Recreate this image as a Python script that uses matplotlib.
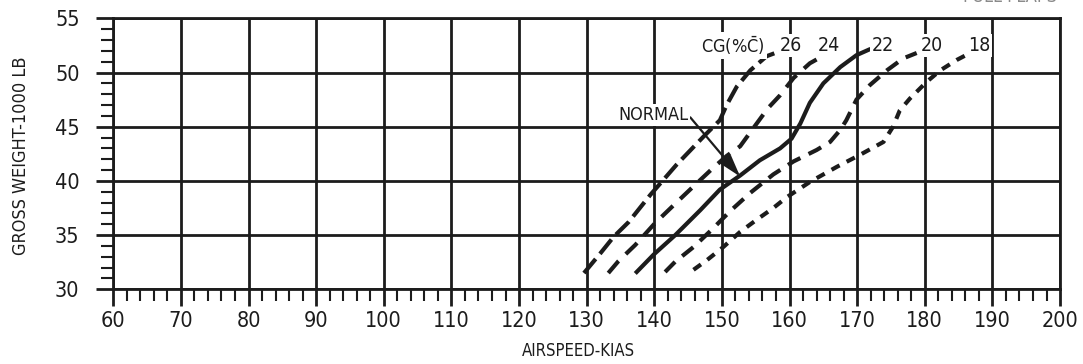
import numpy as np
import matplotlib
matplotlib.use("Agg")
import matplotlib.pyplot as plt
from matplotlib.ticker import MultipleLocator

plt.rcParams['font.family'] = ['DejaVu Sans Condensed', 'Liberation Sans Narrow', 'DejaVu Sans']
plt.rcParams['font.stretch'] = 'condensed'

# -------------------------------
# DATA
# -------------------------------
x_ticks = list(range(60, 201, 10))
y_ticks = list(range(30, 56, 5))

cg_26_kias = [129.6, 132.0, 134.0, 136.2, 139.4, 143.3, 147.3, 149.7, 150.7, 152.2, 154.2, 156.6, 158.3]
cg_26_wt = [31.5, 33.3, 34.85, 36.2, 38.7, 41.5, 44.1, 45.6, 47.0, 48.7, 50.2, 51.5, 51.9]

cg_24_kias = [133.2, 134.7, 137.2, 140.1, 143.1, 145.8, 148.7, 150.7, 152.7, 154.8, 156.8, 158.6, 160.6, 163.0, 164.0]
cg_24_wt = [31.5, 32.6, 34.1, 36.1, 37.9, 39.5, 41.2, 42.3, 43.2, 45.0, 46.7, 47.9, 49.5, 50.85, 51.2]

cg_22_kias = [137.4, 139.9, 143.1, 146.8, 149.7, 152.7, 155.6, 158.6, 160.3, 161.6, 163.0, 165.0, 167.5, 169.9, 171.7]
cg_22_wt = [31.6, 33.2, 35.0, 37.3, 39.2, 40.5, 41.9, 43.0, 43.9, 45.3, 47.2, 49.0, 50.5, 51.6, 52.1]

cg_20_kias = [141.6, 143.1, 145.8, 148.5, 151.2, 154.2, 157.6, 160.6, 164.0, 166.0, 167.5, 168.4,
              169.9, 171.9, 174.4, 176.8, 178.8]
cg_20_wt = [31.6, 32.55, 33.9, 35.5, 37.2, 38.9, 40.6, 41.8, 42.85, 43.6, 44.7, 45.6,
            47.5, 48.85, 50.2, 51.3, 51.8]

cg_18_kias = [145.8, 147.8, 150.2, 152.7, 155.1, 157.6, 159.6, 163.0, 167.0, 170.4, 173.9, 175.3,
              176.3, 177.8, 180.3, 182.3, 184.7, 186.7]
cg_18_wt = [31.8, 32.7, 33.9, 35.3, 36.4, 37.5, 38.5, 39.9, 41.3, 42.4, 43.6, 45.0,
            46.5, 47.6, 49.15, 50.2, 51.15, 51.8]

cg_labels = ['26', '24', '22', '20', '18']
cg_label_kias = [160.2, 165.8, 173.8, 181.1, 188.0]
cg_label_wt = 52.5

# -------------------------------
# PLOT
# -------------------------------
ink = '#1c1c1c'
fig = plt.figure(figsize=(10.83, 3.64), dpi=100)
ax = fig.add_axes([0.1046, 0.2052, 0.8742, 0.7445])

ax.set_xlim(60, 200)
ax.set_ylim(30, 55)

for s in ax.spines.values():
    s.set_linewidth(2.0)
    s.set_color(ink)

ax.set_xticks(x_ticks)
ax.set_yticks(y_ticks)
ax.xaxis.set_minor_locator(MultipleLocator(2))
ax.yaxis.set_minor_locator(MultipleLocator(1))
ax.tick_params(which='major', direction='out', length=12.3, width=2.0, color=ink,
               labelsize=15.5, labelcolor=ink)
ax.tick_params(axis='y', which='major', pad=12)
ax.tick_params(axis='x', which='major', pad=3)
ax.tick_params(which='minor', direction='out', length=8.8, width=1.5, color=ink)
ax.grid(True, which='major', color=ink, linewidth=2.0)
ax.set_axisbelow(True)

lw = 3.0
ax.plot(cg_26_kias, cg_26_wt, color=ink, lw=lw, dashes=(4.4, 1.6), zorder=3)
ax.plot(cg_24_kias, cg_24_wt, color=ink, lw=lw, dashes=(3.8, 2.4), zorder=3)
ax.plot(cg_22_kias, cg_22_wt, color=ink, lw=lw, zorder=3)
ax.plot(cg_20_kias, cg_20_wt, color=ink, lw=lw, dashes=(3.4, 2.2), zorder=3)
ax.plot(cg_18_kias, cg_18_wt, color=ink, lw=lw, dashes=(2.2, 1.9), zorder=3)

box = dict(facecolor='white', edgecolor='none', pad=1.5)
ax.text(151.6, cg_label_wt, r'CG(%$\bar{\mathrm{C}}$)', fontsize=13, color=ink,
        ha='center', va='center', bbox=box, zorder=4)
for lab, xk in zip(cg_labels, cg_label_kias):
    ax.text(xk, cg_label_wt, lab, fontsize=14, color=ink, ha='center', va='center',
            bbox=box, zorder=4)

ax.annotate('NORMAL', xy=(152.7, 40.4), xytext=(145.0, 46.1), fontsize=13, color=ink,
            ha='right', va='center', bbox=box, zorder=4,
            arrowprops=dict(arrowstyle='-|>,head_length=1.0,head_width=0.3', color=ink,
                            lw=1.6, shrinkA=0, shrinkB=0, relpos=(1.0, 0.5)))

ax.set_xlabel('AIRSPEED-KIAS', fontsize=12, color=ink)
ax.set_ylabel('GROSS WEIGHT-1000 LB', fontsize=13, color=ink)
ax.xaxis.set_label_coords(0.491, -0.195)
ax.yaxis.set_label_coords(-0.088, 0.492)

# clipped heading at the top right corner
fig.text(0.889, 0.983, 'FULL FLAPS', fontsize=13, color='#8a8a8a', ha='left', va='bottom')

plt.savefig('out.png', dpi=100)
plt.close()
